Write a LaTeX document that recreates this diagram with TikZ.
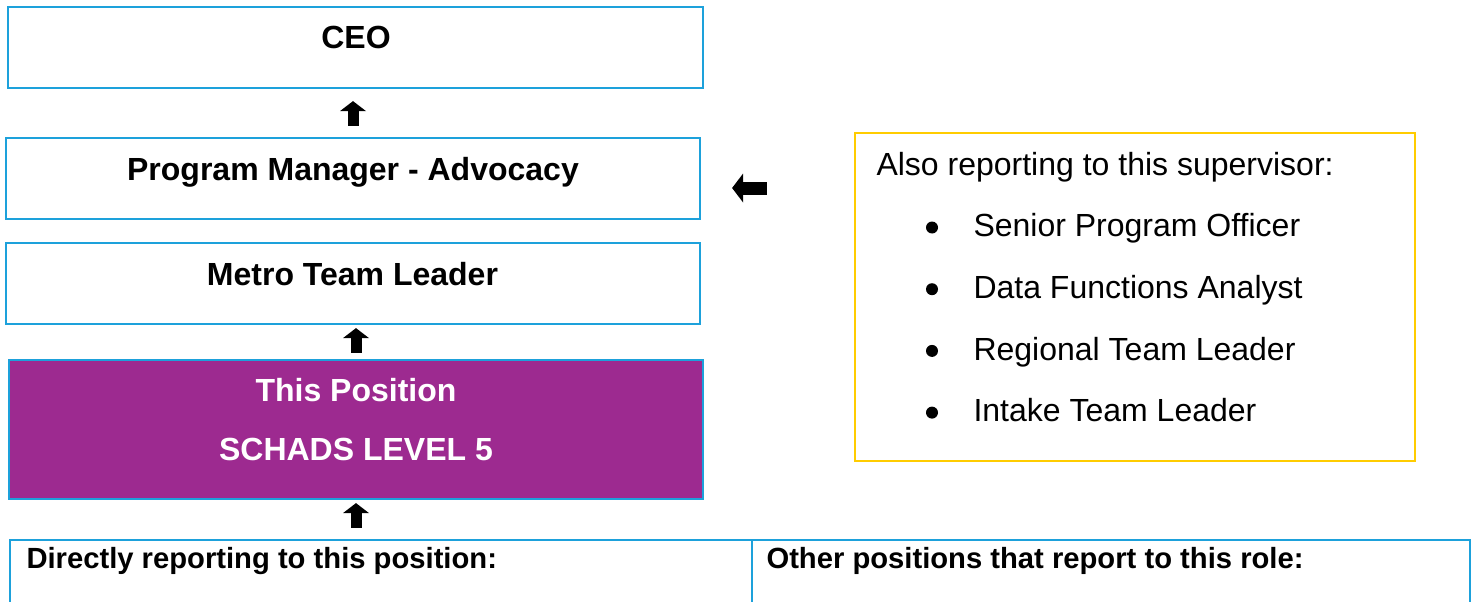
\documentclass[tikz,border=0pt]{standalone}
\usepackage{fontspec}
\setmainfont{Liberation Sans}
\usetikzlibrary{arrows.meta}
\definecolor{lineblue}{RGB}{29,161,219}
\definecolor{rolepurple}{RGB}{157,42,144}
\definecolor{gold}{RGB}{255,204,0}
\begin{document}
\begin{tikzpicture}[x=1pt,y=-1pt,
  box/.style={draw=lineblue, line width=2.2pt, rectangle, inner sep=0pt},
  rolebox/.style={box, fill=rolepurple},
  notebox/.style={draw=gold, line width=2.2pt, rectangle, inner sep=0pt},
  title/.style={anchor=base, font=\fontsize{32}{38}\selectfont\bfseries},
  roletitle/.style={title, text=white},
  celltitle/.style={anchor=base west, font=\fontsize{29.2}{35}\selectfont\bfseries},
  plain/.style={anchor=base west, font=\fontsize{32}{38}\selectfont},
  bulletdot/.style={circle, fill=black, inner sep=0pt, minimum size=12pt},
  upshaft/.style={line width=11pt, -{Triangle[width=26pt,length=10pt,line width=0pt]}},
  leftshaft/.style={line width=13pt, -{Triangle[width=29pt,length=11pt,line width=0pt]}}
]
\useasboundingbox (0,0) rectangle (1478,602);
\clip (0,0) rectangle (1478,602);

% reporting line boxes
\node[box, minimum width=695pt, minimum height=81pt] (ceo) at (355.5,47.5) {};
\node[box, minimum width=694pt, minimum height=81pt] (pm) at (353,178.5) {};
\node[box, minimum width=694pt, minimum height=81pt] (metro) at (353,283.5) {};
\node[rolebox, minimum width=694pt, minimum height=139pt] (this) at (356,429.5) {};

\node[title] (ceot) at (356,48.5) {CEO};
\node[title] (pmt) at (353,180) {Program Manager - Advocacy};
\node[title] (metrot) at (352.5,285) {Metro Team Leader};
\node[roletitle] (thist1) at (356,401) {This Position};
\node[roletitle] (thist2) at (356,460.5) {SCHADS LEVEL 5};

% peers of this position
\node[notebox, minimum width=560pt, minimum height=328pt] (peers) at (1135,297) {};
\node[plain] (peerhead) at (873,175) {Also reporting to this supervisor:};
\foreach \i/\txt in {0/Senior Program Officer, 1/Data Functions Analyst, 2/Regional Team Leader, 3/Intake Team Leader} {
  \node[bulletdot] (bul\i) at (932,227.5+61.7*\i) {};
  \node[plain] (peer\i) at (970,236.7+61.7*\i) {\txt};
}

% table of reports below this position
\node[box, minimum width=742pt, minimum height=160pt] (reportsl) at (381,620) {};
\node[box, minimum width=718pt, minimum height=160pt] (reportsr) at (1111,620) {};
\node[celltitle] (rlt) at (23,568) {Directly reporting to this position:};
\node[celltitle] (rrt) at (763,568) {Other positions that report to this role:};

% block arrows
\draw[upshaft, shorten <=11pt, shorten >=12pt] (pm.north) -- (pm.north |- ceo.south);
\draw[upshaft, shorten <=6pt, shorten >=3pt] (this.north) -- (this.north |- metro.south);
\draw[upshaft, shorten <=11pt, shorten >=3pt] (this.south |- reportsl.north) -- (this.south);
\coordinate (la) at (750,188);
\draw[leftshaft, shorten <=87pt, shorten >=31pt] (peers.west |- la) -- (pm.east |- la);
\end{tikzpicture}
\end{document}
